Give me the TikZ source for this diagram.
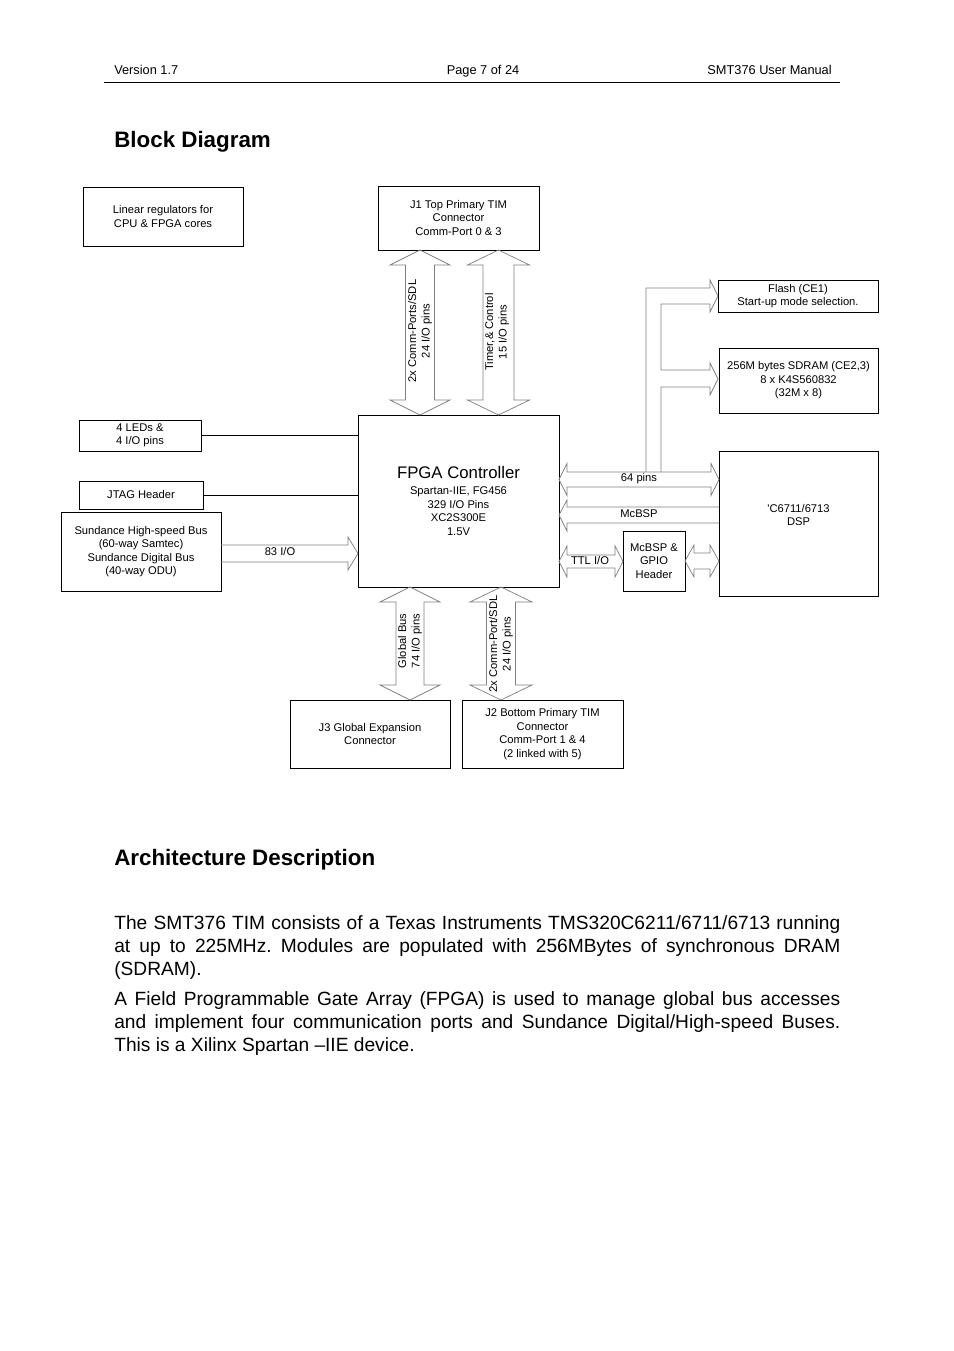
\documentclass[tikz,border=0pt]{standalone}
\usepackage{fontspec}
\setmainfont{Liberation Sans}
\usetikzlibrary{positioning}
\frenchspacing

\newdimen\upx \upx=0.2201mm
\newcommand\diagfont{\fontsize{7}{8.5}\selectfont}
\newcommand\vbus[6]{\draw[bus] ({#1-#4},{#2+#6}) -- ({#1-#5},{#2+#6}) -- (#1,#2) -- ({#1+#5},{#2+#6}) -- ({#1+#4},{#2+#6}) -- ({#1+#4},{#3-#6}) -- ({#1+#5},{#3-#6}) -- (#1,#3) -- ({#1-#5},{#3-#6}) -- ({#1-#4},{#3-#6}) -- cycle;}
\newcommand\hbus[6]{\draw[bus] ({#2+#6},{#1-#4}) -- ({#2+#6},{#1-#5}) -- (#2,#1) -- ({#2+#6},{#1+#5}) -- ({#2+#6},{#1+#4}) -- ({#3-#6},{#1+#4}) -- ({#3-#6},{#1+#5}) -- (#3,#1) -- ({#3-#6},{#1-#5}) -- ({#3-#6},{#1-#4}) -- cycle;}

\tikzset{
  blk/.style={draw, line width=0.6pt, inner sep=0pt, align=center, font=\diagfont},
  bus/.style={draw=black!50, line width=0.45pt, line join=miter},
  buslbl/.style={font=\diagfont, inner sep=0pt, align=center},
  wire/.style={line width=0.6pt},
}

\begin{document}
\begin{tikzpicture}[x=0.2201mm, y=-0.2201mm]
\useasboundingbox[fill=white] (0,0) rectangle (954,1351);

\node[anchor=base west, inner sep=0pt, font=\fontsize{8}{9.6}\selectfont] (ver) at (114,74.5) {Version 1.7};
\node[anchor=base, inner sep=0pt, font=\fontsize{8}{9.6}\selectfont] (page) at (483,74.5) {Page 7 of 24};
\node[anchor=base east, inner sep=0pt, font=\fontsize{8}{9.6}\selectfont] (manual) at (832,74.5) {SMT376 User Manual};
\draw[wire] (104,82) -- (840,82);

\node[anchor=base west, inner sep=0pt, font=\fontsize{14}{16.8}\selectfont\bfseries] (blockhead) at (114,148) {Block Diagram};

\node[blk, minimum width=160\upx, minimum height=59\upx] (lin) at (163,216.5) {Linear regulators for\\CPU \& FPGA cores};
\node[blk, minimum width=161\upx, minimum height=64\upx] (j1) at (458.5,218) {J1 Top Primary TIM\\Connector\\Comm-Port 0 \& 3};
\node[blk, minimum width=160\upx, minimum height=32\upx] (flash) at (798,296) {Flash (CE1)\\Start-up mode selection.};
\node[blk, minimum width=159\upx, minimum height=65\upx] (sdram) at (798.5,380.5) {256M bytes SDRAM (CE2,3)\\8 x K4S560832\\(32M x 8)};
\node[blk, minimum width=122\upx, minimum height=31\upx] (leds) at (140,435.5) {4 LEDs \&\\4 I/O pins};
\node[blk, minimum width=124\upx, minimum height=28\upx] (jtag) at (141,495) {JTAG Header};
\node[blk, minimum width=160\upx, minimum height=79\upx] (sund) at (141,551.5) {Sundance High-speed Bus\\(60-way Samtec)\\Sundance Digital Bus\\(40-way ODU)};
\node[blk, minimum width=201\upx, minimum height=172\upx] (fpga) at (458.5,501) {{\fontsize{10.5}{12.5}\selectfont FPGA Controller}\\[1.5pt]Spartan-IIE, FG456\\329 I/O Pins\\XC2S300E\\1.5V};
\node[blk, minimum width=159\upx, minimum height=145\upx] (dsp) at (798.5,523.5) {};
\node[buslbl] (dsplbl) at (798.5,515) {\textquotesingle C6711/6713\\DSP};
\node[blk, minimum width=62\upx, minimum height=60\upx] (hdr) at (654,561) {McBSP \&\\GPIO\\Header};
\node[blk, minimum width=160\upx, minimum height=68\upx] (j3) at (370,734) {J3 Global Expansion\\Connector};
\node[blk, minimum width=161\upx, minimum height=68\upx] (j2) at (542.5,734) {J2 Bottom Primary TIM\\Connector\\Comm-Port 1 \& 4\\(2 linked with 5)};

\draw[wire] (leds.east) -- (leds.east -| fpga.west);
\draw[wire] (jtag.east) -- (jtag.east -| fpga.west);

\vbus{420}{250}{415}{14.5}{30}{15}
\vbus{498.5}{250}{415}{15.5}{31}{15}
\vbus{410}{587}{700}{14}{30}{15}
\vbus{501}{587}{700}{14.5}{31}{15}
\hbus{479.5}{559}{719}{7.5}{16}{8}
\hbus{561.5}{559}{623}{6.5}{15.5}{8}
\hbus{561}{685}{719}{8}{16}{9}
\draw[bus] (221,545) -- (348,545) -- (348,537) -- (358,553.5) -- (348,570) -- (348,562) -- (221,562);
\draw[bus] (719,507) -- (567,507) -- (567,500) -- (559,515) -- (567,531) -- (567,523) -- (719,523);
\draw[bus] (646,472) |- (710,288) -- (710,280) -- (718,296) -- (710,312) -- (710,304) -| (661,370) -- (710,370) -- (710,363) -- (718,379) -- (710,395) -- (710,387) -| (661,472);

\node[buslbl, rotate=90] (lblcp) at (420,331) {2x Comm-Ports/SDL\\24 I/O pins};
\node[buslbl, rotate=90] (lbltc) at (497,332) {Timer,\& Control\\15 I/O pins};
\node[buslbl, rotate=90] (lblgb) at (410,641) {Global Bus\\74 I/O pins};
\node[buslbl, rotate=90] (lblcpb) at (501,644) {2x Comm-Port/SDL\\24 I/O pins};
\node[buslbl] (lbl83) at (280,552) {83 I/O};
\node[buslbl] (lbl64) at (639,478.5) {64 pins};
\node[buslbl] (lblmc) at (639,514) {McBSP};
\node[buslbl] (lblttl) at (590,560) {TTL I/O};

\node[anchor=base west, inner sep=0pt, font=\fontsize{14}{16.8}\selectfont\bfseries] (archhead) at (114,865) {Architecture Description};
\node[anchor=north west, inner sep=0pt, text width=726\upx, align=justify, font=\fontsize{12}{14.4}\selectfont] (para1) at (114,915) {The SMT376 TIM consists of a Texas Instruments TMS320C6211/6711/6713 running\linebreak at up to 225MHz. Modules are populated with 256MBytes of synchronous DRAM\linebreak (SDRAM).};
\node[anchor=north west, inner sep=0pt, text width=726\upx, align=justify, font=\fontsize{12}{14.4}\selectfont] (para2) at (114,991) {A Field Programmable Gate Array (FPGA) is used to manage global bus accesses\linebreak and implement four communication ports and Sundance Digital/High-speed Buses.\linebreak This is a Xilinx Spartan --IIE device.};
\end{tikzpicture}
\end{document}
